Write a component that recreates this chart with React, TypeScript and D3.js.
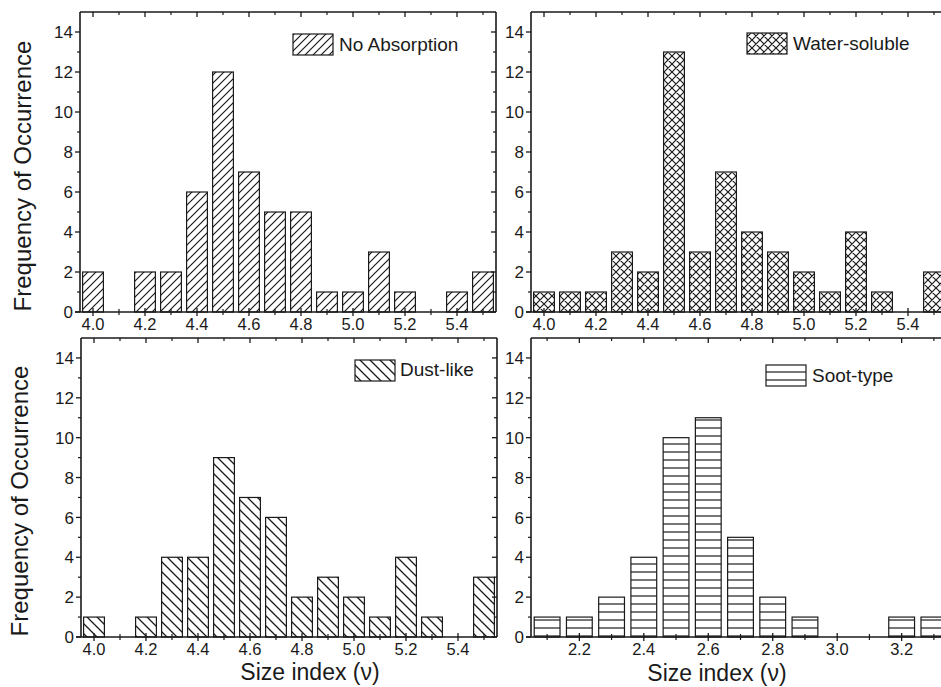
import React from "react";
import * as d3 from "d3";

const binsA = [4.0, 4.1, 4.2, 4.3, 4.4, 4.5, 4.6, 4.7, 4.8, 4.9, 5.0, 5.1, 5.2, 5.3, 5.4, 5.5];
const noAbsorption = [2, 0, 2, 2, 6, 12, 7, 5, 5, 1, 1, 3, 1, 0, 1, 2];
const waterSoluble = [1, 1, 1, 3, 2, 13, 3, 7, 4, 3, 2, 1, 4, 1, 0, 2];
const dustLike = [1, 0, 1, 4, 4, 9, 7, 6, 2, 3, 2, 1, 4, 1, 0, 3];

const binsSoot = [2.1, 2.2, 2.3, 2.4, 2.5, 2.6, 2.7, 2.8, 2.9, 3.0, 3.1, 3.2, 3.3];
const sootType = [1, 1, 2, 4, 10, 11, 5, 2, 1, 0, 0, 1, 1];

const xMajorA = [4.0, 4.2, 4.4, 4.6, 4.8, 5.0, 5.2, 5.4];
const xMinorA = [4.1, 4.3, 4.5, 4.7, 4.9, 5.1, 5.3, 5.5];
const xMajorSoot = [2.2, 2.4, 2.6, 2.8, 3.0, 3.2];
const xMinorSoot = [2.1, 2.3, 2.5, 2.7, 2.9, 3.1, 3.3];
const yMajor = [0, 2, 4, 6, 8, 10, 12, 14];
const yMinor = [1, 3, 5, 7, 9, 11, 13];

const FONT = "'Liberation Sans', Arial, Helvetica, sans-serif";
const INK = "#1a1a1a";

type PanelProps = {
  x0: number; x1: number; y0: number; y1: number;
  domain: [number, number];
  bins: number[]; values: number[]; binStep: number;
  majors: number[]; minors: number[];
  pattern: string; label: string;
  legend: { bx: number; by: number; tx: number; ty: number };
  yTitle?: { x: number; y: number };
  xTitle?: { x: number; y: number };
};

function Panel(p: PanelProps) {
  const x = d3.scaleLinear().domain(p.domain).range([p.x0, p.x1]);
  const y = d3.scaleLinear().domain([0, 15]).range([p.y0, p.y1]);
  const bw = (x(p.binStep) - x(0)) * 0.8;
  return (
    <g>
      {p.bins.map((b, i) =>
        p.values[i] > 0 ? (
          <rect key={i} x={x(b) - bw / 2} y={y(p.values[i])} width={bw} height={y(0) - y(p.values[i])}
            fill={`url(#${p.pattern})`} stroke={INK} strokeWidth={1.2} />
        ) : null
      )}
      <line x1={p.x0 - 5} x2={p.x1} y1={p.y0} y2={p.y0} stroke={INK} strokeWidth={1.6} />
      <line x1={p.x0} x2={p.x1} y1={p.y1} y2={p.y1} stroke={INK} strokeWidth={1.6} />
      <line x1={p.x0} x2={p.x0} y1={p.y0} y2={p.y1} stroke={INK} strokeWidth={1.6} />
      <line x1={p.x1} x2={p.x1} y1={p.y0} y2={p.y1} stroke={INK} strokeWidth={1.6} />
      {p.majors.map((t) => (
        <g key={"M" + t}>
          <line x1={x(t)} x2={x(t)} y1={p.y0 - 4} y2={p.y0 + 4} stroke={INK} strokeWidth={1.3} />
          <line x1={x(t)} x2={x(t)} y1={p.y1} y2={p.y1 + 5} stroke={INK} strokeWidth={1.3} />
          <text x={x(t)} y={p.y0 + 18} textAnchor="middle" fontSize={16.5} fontFamily={FONT} fill={INK}>
            {d3.format(".1f")(t)}
          </text>
        </g>
      ))}
      {p.minors.map((t) => (
        <g key={"m" + t}>
          <line x1={x(t)} x2={x(t)} y1={p.y0 - 3} y2={p.y0 + 3} stroke={INK} strokeWidth={1.2} />
          <line x1={x(t)} x2={x(t)} y1={p.y1} y2={p.y1 + 3} stroke={INK} strokeWidth={1.2} />
        </g>
      ))}
      {yMajor.map((t) => (
        <g key={"y" + t}>
          <line x1={p.x0 - 5} x2={p.x0} y1={y(t)} y2={y(t)} stroke={INK} strokeWidth={1.3} />
          <line x1={p.x1 - 5} x2={p.x1} y1={y(t)} y2={y(t)} stroke={INK} strokeWidth={1.3} />
          <text x={p.x0 - 7} y={y(t)} dy="0.36em" textAnchor="end" fontSize={17} fontFamily={FONT} fill={INK}>
            {t}
          </text>
        </g>
      ))}
      {yMinor.map((t) => (
        <g key={"ym" + t}>
          <line x1={p.x0 - 3} x2={p.x0} y1={y(t)} y2={y(t)} stroke={INK} strokeWidth={1.2} />
          <line x1={p.x1 - 3} x2={p.x1} y1={y(t)} y2={y(t)} stroke={INK} strokeWidth={1.2} />
        </g>
      ))}
      <rect x={p.legend.bx} y={p.legend.by} width={40} height={21} fill={`url(#${p.pattern})`} stroke={INK} strokeWidth={1.2} />
      <text x={p.legend.tx} y={p.legend.ty} fontSize={19} fontFamily={FONT} fill={INK}>{p.label}</text>
      {p.yTitle && (
        <text transform={`translate(${p.yTitle.x},${p.yTitle.y}) rotate(-90)`} textAnchor="middle" fontSize={24} fontFamily={FONT} fill={INK}>
          Frequency of Occurrence
        </text>
      )}
      {p.xTitle && (
        <text x={p.xTitle.x} y={p.xTitle.y} textAnchor="middle" fontSize={23} fontFamily={FONT} fill={INK}>
          Size index (ν)
        </text>
      )}
    </g>
  );
}

export default function App() {
  return (
    <svg width={941} height={687} style={{ position: "absolute", left: 0, top: 0, background: "#fff" }}>
      <defs>
        <pattern id="fwd" patternUnits="userSpaceOnUse" width={8} height={8}>
          <rect width={8} height={8} fill="#fff" />
          <path d="M-2,2 L2,-2 M0,8 L8,0 M6,10 L10,6" stroke={INK} strokeWidth={1.2} />
        </pattern>
        <pattern id="cross" patternUnits="userSpaceOnUse" width={8} height={8}>
          <rect width={8} height={8} fill="#fff" />
          <path d="M-2,2 L2,-2 M0,8 L8,0 M6,10 L10,6 M-2,6 L2,10 M0,0 L8,8 M6,-2 L10,2" stroke={INK} strokeWidth={1.2} />
        </pattern>
        <pattern id="back" patternUnits="userSpaceOnUse" width={10} height={10}>
          <rect width={10} height={10} fill="#fff" />
          <path d="M-2,8 L2,12 M0,0 L10,10 M8,-2 L12,2" stroke={INK} strokeWidth={1.3} />
        </pattern>
        <pattern id="horiz" patternUnits="userSpaceOnUse" width={8} height={8}>
          <rect width={8} height={8} fill="#fff" />
          <path d="M0,4 L8,4" stroke={INK} strokeWidth={1.2} />
        </pattern>
      </defs>
      <rect width={941} height={687} fill="#fff" />
      <Panel x0={80} x1={496} y0={312} y1={12} domain={[3.95, 5.55]} bins={binsA} values={noAbsorption} binStep={0.1}
        majors={xMajorA} minors={xMinorA} pattern="fwd" label="No Absorption"
        legend={{ bx: 293, by: 34, tx: 339, ty: 51 }} yTitle={{ x: 31, y: 176 }} />
      <Panel x0={531} x1={947} y0={312} y1={12} domain={[3.95, 5.55]} bins={binsA} values={waterSoluble} binStep={0.1}
        majors={xMajorA} minors={xMinorA} pattern="cross" label="Water-soluble"
        legend={{ bx: 747, by: 33, tx: 793, ty: 50 }} />
      <Panel x0={81} x1={497} y0={637} y1={338} domain={[3.95, 5.55]} bins={binsA} values={dustLike} binStep={0.1}
        majors={xMajorA} minors={xMinorA} pattern="back" label="Dust-like"
        legend={{ bx: 355, by: 360, tx: 400, ty: 376 }} yTitle={{ x: 28, y: 501 }} xTitle={{ x: 310, y: 680 }} />
      <Panel x0={531} x1={950} y0={637} y1={338} domain={[2.05, 3.35]} bins={binsSoot} values={sootType} binStep={0.1}
        majors={xMajorSoot} minors={xMinorSoot} pattern="horiz" label="Soot-type"
        legend={{ bx: 766, by: 365, tx: 812, ty: 382 }} xTitle={{ x: 717, y: 681 }} />
    </svg>
  );
}
